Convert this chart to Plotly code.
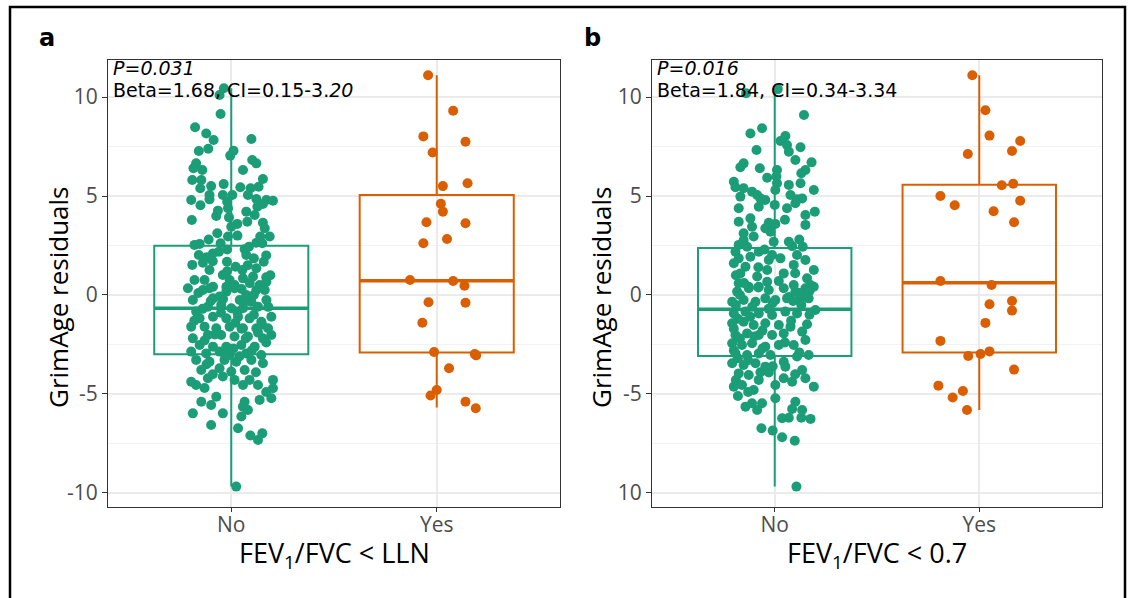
import plotly.graph_objects as go

# ---------------- data ----------------
categories = ["No", "Yes"]
panel_letters = ["a", "b"]
x_titles = ["FEV<sub>1</sub>/FVC &lt; LLN", "FEV<sub>1</sub>/FVC &lt; 0.7"]
p_texts = ["<i>P=0.031</i>", "<i>P=0.016</i>"]
beta_texts = ["Beta=1.68, CI=0.15-3.<i>20</i>", "Beta=1.84, CI=0.34-3.34"]
y_tick_vals = [-10, -5, 0, 5, 10]
y_tick_text_a = ["-10", "-5", "0", "5", "10"]
y_tick_text_b = ["10", "-5", "0", "5", "10"]

# panel a, group "No": residual values and horizontal jitter (category units)
a_no_y = [10.44, 10.10, 9.14, 8.47, 8.16, 7.83, 7.88, 7.27, 7.39, 7.29, 7.04, 6.82, 6.65, 6.65, 6.40,
          6.31, 6.31, 5.81, 5.81, 5.50, 5.60, 5.86, 5.39, 5.44, 5.39, 5.47, 5.05, 5.05, 5.05, 5.05,
          4.80, 4.83, 4.71, 4.85, 4.80, 4.76, 4.53, 4.26, 4.38, 4.46, 4.60, 4.21, 3.99, 3.79, 3.92,
          4.04, 3.59, 3.45, 3.70, 3.65, 3.12, 3.37, 2.95, 2.95, 2.95, 2.64, 2.53, 2.58, 2.61, 2.31,
          2.44, 2.61, 2.02, 2.10, 2.19, 1.68, 1.85, 2.02, 1.52, 1.63, 1.26, 1.43, 1.26, 1.35, 1.68,
          0.76, 0.76, 1.01, 0.76, 0.84, 0.93, 0.42, 0.42, 0.50, 0.50, 0.67, 0.34,
          -0.25, 0.25, -0.17, 0.17, 0.34, 0.00, 0.25, 0.25, 0.34, -0.08, -0.25, -0.34, -0.25, -0.84,
          -0.59, -0.50, -0.67, -0.67, -0.59, -1.10, -1.18, -1.10, -1.18, -1.10, -1.18, -1.35, -1.60,
          -1.60, -1.68, -1.60, -1.68, -1.68, -1.68, -2.19, -2.02, -2.02, -2.10, -2.10, -2.19, -2.02,
          -2.53, -2.61, -2.61, -2.53, -2.61, -2.86, -2.95, -2.86, -3.03, -2.95, -3.03, -3.28, -3.37,
          -3.28, -3.37, -3.28, -3.45, -3.79, -3.70, -3.87, -3.79, -4.38, -4.55, -4.21, -4.12, -4.29,
          -4.29, -4.55, -4.29, -4.71, -5.22, -4.55, -5.39, -5.14, -5.56, -5.39, -5.64, -5.81, -5.30,
          -5.98, -5.98, -6.14, -6.57, -6.73, -7.10, -6.99, -7.32, -9.68,
          1.9, 1.2, 0.9, 0.1, -0.4, -0.9, -1.4, -1.9, -2.3, -2.8, -3.1, -0.2, 0.6, 1.5, 2.3, -1.3,
          -0.6, -2.4, -3.5, -1.0, 0.3, -0.7, -2.0, 1.0, -3.0, -1.7, -0.3, 0.0, -2.7, -1.5, 2.0, 1.7,
          -0.9, -2.2, -3.9, -4.0, 3.0, 2.8, -4.7, -4.9]
a_no_jit = [-0.036, -0.057, -0.052, -0.176, -0.122, -0.086, 0.098, -0.158, -0.112, 0.011, -0.005, 0.102,
            0.122, -0.171, -0.184, -0.141, 0.057, -0.190, -0.146, -0.098, -0.037, 0.154, -0.151, 0.044,
            0.094, 0.133, -0.106, -0.041, 0.005, 0.081, -0.195, -0.106, -0.020, 0.122, 0.171, 0.203,
            -0.150, -0.065, -0.016, 0.127, 0.154, 0.073, -0.073, -0.192, -0.011, 0.114, 0.029, 0.000,
            0.078, 0.154, -0.068, 0.163, -0.016, 0.187, 0.141, 0.122, -0.179, -0.154, -0.052, 0.065,
            0.086, 0.151, -0.158, -0.089, -0.060, -0.021, 0.110, 0.073, -0.190, -0.138, -0.106, 0.021,
            0.054, 0.122, 0.158, -0.179, -0.130, -0.041, -0.008, 0.057, 0.106, -0.089, -0.024, 0.016,
            0.138, 0.171, -0.211,
            -0.187, -0.138, -0.089, -0.024, 0.016, 0.073, 0.122, 0.163, -0.106, -0.057, 0.041, 0.098,
            0.171, -0.171, -0.114, -0.049, 0.000, 0.057, 0.130, 0.195, -0.154, -0.089, -0.024, 0.033,
            0.089, 0.146, -0.195, -0.130, -0.073, -0.008, 0.057, 0.122, 0.179, -0.187, -0.114, -0.049,
            0.016, 0.081, 0.154, 0.195, -0.154, -0.089, -0.024, 0.049, 0.114, -0.195, -0.122, -0.057,
            -0.008, 0.073, 0.146, -0.171, -0.106, -0.033, 0.024, 0.098, 0.154, -0.146, -0.057, 0.000,
            0.065, -0.195, -0.171, -0.114, -0.041, 0.016, 0.089, 0.130, 0.203, 0.203, 0.195, 0.057,
            -0.146, -0.073, -0.098, 0.065, 0.057, 0.081, 0.138, -0.187, -0.041, 0.049, -0.098, 0.033,
            0.093, 0.151, 0.130, 0.024,
            -0.12, -0.02, 0.17, -0.16, 0.06, -0.05, 0.02, 0.13, -0.13, 0.10, 0.04, -0.04, 0.09, 0.08,
            -0.02, -0.18, 0.18, 0.17, -0.12, 0.11, 0.05, -0.14, -0.08, 0.19, -0.03, 0.05, -0.10, 0.11,
            0.01, 0.15, 0.17, -0.09, 0.03, 0.07, 0.12, -0.09, 0.03, -0.11, -0.13, 0.17]

# panel a, group "Yes"
a_yes_y = [11.10, 9.31, 8.01, 7.74, 7.20, 5.50, 5.64, 4.61, 4.21, 3.67, 3.62, 2.83, 2.61, 0.76, 0.71,
           0.47, -0.37, -0.39, -1.40, -2.88, -2.98, -3.05, -3.70, -4.80, -5.08, -5.39, -5.72]
a_yes_jit = [-0.042, 0.080, -0.065, 0.140, -0.020, 0.030, 0.150, 0.020, 0.030, -0.050, 0.140, 0.050,
             -0.065, -0.130, 0.080, 0.135, -0.040, 0.140, -0.070, -0.013, 0.185, 0.192, 0.060, 0.000,
             -0.030, 0.140, 0.190]

# panel b, group "No"
b_no_y = [10.19, 9.09, 8.16, 8.42, 8.03, 7.78, 7.58, 7.46, 7.32, 7.24, 6.82, 6.70, 6.65, 6.45, 6.40,
          6.31, 6.31, 6.15, 5.92, 5.98, 5.72, 5.44, 5.39, 5.22, 5.64, 5.56, 5.64, 5.30, 5.05, 5.30,
          4.97, 4.88, 5.05, 4.83, 4.88, 4.80, 4.55, 4.63, 4.38, 4.46, 4.38, 4.21, 4.04, 3.87, 3.70,
          3.65, 3.59, 3.54, 3.37, 3.45, 3.12, 3.20, 2.95, 2.78, 2.69, 2.69, 2.47, 2.53, 2.44, 2.44,
          2.19, 2.19, 2.02, 2.02, 1.85, 1.93, 1.77, 1.85, 1.77, 1.43, 1.26, 1.52, 1.26, 1.09, 0.93,
          1.09, 0.84, 0.59, 0.42, 0.42, 0.50, 0.50, 0.67,
          0.17, 0.34, 0.38, 0.25, 0.34, 0.17, 0.34, 0.42, -0.34, -0.25, -0.34, -0.17, -0.25, -0.17,
          -0.25, -0.17, -0.76, -0.93, -0.84, -0.93, -1.01, -0.84, -0.93, -1.48, -1.43, -1.35, -1.52,
          -1.43, -1.52, -1.60, -1.85, -2.02, -1.94, -2.02, -2.02, -1.94, -2.53, -2.27, -2.44, -2.53,
          -2.44, -2.61, -2.53, -3.03, -2.95, -3.03, -2.95, -3.03, -3.37, -3.11, -3.45, -3.54, -3.45,
          -3.62, -3.62, -3.79, -3.96, -4.04, -4.29, -3.91, -4.55, -4.21, -4.38, -4.21, -4.63, -4.63,
          -4.55, -4.80, -5.22, -5.64, -5.47, -5.81, -5.47, -5.39, -5.76, -5.81, -6.20, -6.23, -6.20,
          -6.26, -6.73, -6.85, -7.19, -7.36, -9.68, 10.40,
          1.6, 1.0, 0.0, -0.5, -1.2, -1.7, -2.2, -2.8, -3.2, -0.6, -1.1, -2.1, -2.7, -0.1, -0.5, 0.1,
          -0.3, 0.6, -1.8, -3.3, 2.3, 1.4, -0.7, -1.3, -2.4, -4.3, -4.0, -0.05, 0.2, -0.4, 3.8, 2.8,
          -3.9, -1.0, -2.9, 1.1, 0.7, -3.6, -4.9, -5.1]
b_no_jit = [-0.140, 0.143, -0.119, -0.062, 0.052, 0.028, 0.060, 0.126, -0.089, 0.069, 0.101, 0.180,
            -0.152, -0.168, -0.073, 0.011, 0.150, 0.130, -0.037, 0.008, -0.200, -0.192, -0.152, -0.111,
            0.011, 0.069, 0.126, 0.191, -0.086, 0.003, -0.168, -0.070, 0.077, 0.109, 0.134, -0.046,
            0.000, 0.101, -0.176, -0.078, 0.060, 0.196, 0.150, -0.119, -0.176, -0.029, 0.003, 0.150,
            -0.046, -0.111, -0.152, -0.021, -0.103, -0.152, -0.005, 0.069, 0.085, -0.176, -0.135,
            0.137, -0.192, -0.078, -0.013, 0.109, -0.176, -0.119, -0.029, 0.028, 0.150, -0.143,
            -0.037, 0.093, 0.191, -0.168, -0.086, 0.044, 0.158, -0.176, -0.127, -0.078, 0.093, 0.175,
            -0.037,
            -0.184, -0.127, -0.080, -0.029, 0.044, 0.101, 0.150, 0.191, -0.208, -0.152, -0.094, -0.046,
            0.003, 0.060, 0.117, 0.166, 0.199, -0.200, -0.143, -0.078, -0.013, 0.052, 0.109, 0.158,
            -0.208, -0.152, -0.103, -0.046, 0.020, 0.077, 0.134, -0.192, -0.135, -0.078, -0.013, 0.044,
            0.093, 0.150, -0.208, -0.160, -0.111, -0.046, 0.020, 0.166, -0.192, -0.135, -0.078, -0.021,
            0.044, 0.109, -0.208, -0.152, -0.094, -0.046, 0.052, 0.134, -0.176, -0.127, -0.078, -0.029,
            0.003, 0.044, 0.085, 0.150, 0.191, -0.200, -0.160, -0.103, 0.003, -0.143, -0.111, -0.086,
            -0.062, 0.101, 0.085, 0.134, 0.069, 0.036, 0.130, 0.175, -0.065, -0.010, 0.036, 0.098,
            0.106, 0.015,
            -0.20, -0.19, -0.17, -0.19, -0.18, -0.20, -0.17, -0.20, -0.18, -0.11, -0.12, -0.10, -0.06,
            0.07, 0.13, 0.12, 0.09, -0.15, -0.06, -0.13, -0.05, -0.08, -0.03, 0.08, 0.05, -0.19, 0.10,
            0.14, 0.17, -0.01, 0.05, 0.12, -0.07, 0.17, 0.12, 0.10, 0.02, -0.01, -0.13, -0.18]

# panel b, group "Yes"
b_yes_y = [11.10, 9.33, 8.05, 7.78, 7.12, 7.27, 5.54, 5.62, 5.00, 4.53, 4.76, 4.23, 3.67, 0.71, 0.50,
           -0.30, -0.47, -0.79, -1.41, -2.32, -2.85, -2.98, -3.08, -3.77, -4.58, -4.85, -5.18, -5.81]
b_yes_jit = [-0.034, 0.030, 0.050, 0.200, -0.056, 0.160, 0.110, 0.166, -0.190, -0.120, 0.200, 0.070,
             0.170, -0.190, 0.060, 0.160, 0.050, 0.160, 0.030, -0.190, 0.050, 0.006, -0.054, 0.170,
             -0.200, -0.080, -0.130, -0.060]

# box statistics: lower whisker, Q1, median, Q3, upper whisker
a_no_box = [-9.68, -3.00, -0.67, 2.49, 10.44]
a_yes_box = [-5.69, -2.91, 0.72, 5.05, 11.10]
b_no_box = [-9.68, -3.08, -0.72, 2.37, 10.40]
b_yes_box = [-5.81, -2.90, 0.62, 5.57, 11.10]

# ---------------- style ----------------
GREEN = "#1b9e77"
ORANGE = "#d95f02"
W, H = 1133, 598
BOX_W = 0.75
AX_FONT = "Open Sans, Noto Sans, sans-serif"
ANN_FONT = "DejaVu Sans, Verdana, sans-serif"

fig = go.Figure()

panels = [
    ("x", "y", [(a_no_y, a_no_jit, a_no_box, GREEN), (a_yes_y, a_yes_jit, a_yes_box, ORANGE)]),
    ("x2", "y2", [(b_no_y, b_no_jit, b_no_box, GREEN), (b_yes_y, b_yes_jit, b_yes_box, ORANGE)]),
]

for xa, ya, groups in panels:
    for gi, (vals, jit, box, col) in enumerate(groups):
        pos = gi + 1
        fig.add_trace(go.Box(
            x=[pos], lowerfence=[box[0]], q1=[box[1]], median=[box[2]], q3=[box[3]],
            upperfence=[box[4]], width=BOX_W, whiskerwidth=0,
            fillcolor="rgba(255,255,255,0)", line=dict(color=col, width=2),
            boxpoints=False, xaxis=xa, yaxis=ya, showlegend=False, hoverinfo="skip"))
        fig.add_trace(go.Scatter(
            x=[pos - BOX_W / 2, pos + BOX_W / 2], y=[box[2], box[2]], mode="lines",
            line=dict(color=col, width=3.6), xaxis=xa, yaxis=ya, showlegend=False,
            hoverinfo="skip"))
        fig.add_trace(go.Scatter(
            x=[pos + j for j in jit], y=vals, mode="markers",
            marker=dict(color=col, size=10, line=dict(width=0)),
            xaxis=xa, yaxis=ya, showlegend=False))

# panel geometry (pixels -> paper fraction)
def px(v):
    return v / W

def py(v):
    return 1 - v / H

y_dom = [py(507), py(60)]
x_doms = [[px(108), px(560)], [px(652), px(1102)]]
y_range = [-10.71, 11.87]

common_x = dict(range=[0.4, 2.6], tickvals=[1, 2], ticktext=categories, showgrid=True,
                gridcolor="#EBEBEB", gridwidth=1.5, zeroline=False, showline=True, mirror=True,
                linecolor="#333333", linewidth=1, ticks="outside", ticklen=4, tickcolor="#333333",
                ticklabelstandoff=-5,
                tickfont=dict(family=AX_FONT, size=21, color="#4D4D4D"), fixedrange=True)
common_y = dict(range=y_range, tickvals=y_tick_vals, showgrid=True, gridcolor="#EBEBEB",
                gridwidth=1.5, zeroline=False, showline=True, mirror=True, linecolor="#333333",
                linewidth=1, ticks="outside", ticklen=5, tickcolor="#333333",
                tickfont=dict(family=AX_FONT, size=21, color="#4D4D4D"),
                minor=dict(dtick=2.5, tick0=0, showgrid=True, gridcolor="#F2F2F2", gridwidth=1,
                           ticks=""),
                fixedrange=True)

fig.update_layout(
    width=W, height=H, margin=dict(l=0, r=0, t=0, b=0),
    paper_bgcolor="white", plot_bgcolor="white", showlegend=False,
    xaxis=dict(domain=x_doms[0], anchor="y", **common_x),
    yaxis=dict(domain=y_dom, anchor="x", ticktext=y_tick_text_a, **common_y),
    xaxis2=dict(domain=x_doms[1], anchor="y2", **common_x),
    yaxis2=dict(domain=y_dom, anchor="x2", ticktext=y_tick_text_b, **common_y),
)

annotations = []
letter_x = [47, 592]
ytitle_x = [58, 601]
xtitle_x = [334, 877]
for i in range(2):
    dom = x_doms[i]
    annotations.append(dict(text="<b>" + panel_letters[i] + "</b>", x=px(letter_x[i]), y=py(38),
                            xref="paper", yref="paper", xanchor="center", yanchor="middle",
                            showarrow=False,
                            font=dict(family=ANN_FONT, size=24, color="black")))
    annotations.append(dict(text=p_texts[i], x=dom[0] + px(3), y=py(68), xref="paper",
                            yref="paper", xanchor="left", yanchor="middle", showarrow=False,
                            font=dict(family=ANN_FONT, size=19, color="black")))
    annotations.append(dict(text=beta_texts[i], x=dom[0] + px(3), y=py(90), xref="paper",
                            yref="paper", xanchor="left", yanchor="middle", showarrow=False,
                            font=dict(family=ANN_FONT, size=19, color="black")))
    annotations.append(dict(text="GrimAge residuals", x=px(ytitle_x[i]), y=py(297), xref="paper",
                            yref="paper", xanchor="center", yanchor="middle", textangle=-90,
                            showarrow=False,
                            font=dict(family=AX_FONT, size=26, color="black")))
    annotations.append(dict(text=x_titles[i], x=px(xtitle_x[i]), y=py(554), xref="paper",
                            yref="paper", xanchor="center", yanchor="middle", showarrow=False,
                            font=dict(family=AX_FONT, size=27, color="black")))
fig.update_layout(annotations=annotations)

# outer frame of the figure
fig.add_shape(type="rect", xref="paper", yref="paper", x0=px(10), x1=px(1125), y0=-0.05,
              y1=py(7), line=dict(color="black", width=2.5), fillcolor="rgba(0,0,0,0)",
              layer="above")

fig.write_html("out.html", config={"displayModeBar": False},
               post_script="document.body.style.margin='0px';")
